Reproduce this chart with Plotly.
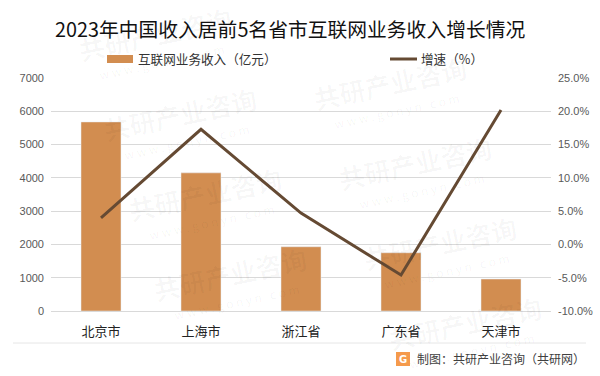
import plotly.graph_objects as go

categories = ["北京市", "上海市", "浙江省", "广东省", "天津市"]
revenue = [5680, 4150, 1930, 1750, 960]
growth = [4.0, 17.3, 4.7, -4.6, 20.2]
left_ticks = [0, 1000, 2000, 3000, 4000, 5000, 6000, 7000]
right_ticks = [-10, -5, 0, 5, 10, 15, 20, 25]
right_labels = ["-10.0%", "-5.0%", "0.0%", "5.0%", "10.0%", "15.0%", "20.0%", "25.0%"]
series_names = ["互联网业务收入（亿元）", "增速（%）"]

FONT = "Noto Sans CJK SC"
W, H = 600, 376
L, R, T, B = 51, 551, 78, 311
BAR_COLOR = "#D28D50"
LINE_COLOR = "#654A33"


def fx(x):
    return (x - L) / (R - L)


def fy(y):
    return (B - y) / (B - T)


def label(x, y, text, size, color, xanchor="center", family=FONT, angle=0):
    return dict(x=fx(x), y=fy(y), xref="paper", yref="paper", text=text, showarrow=False,
                xanchor=xanchor, yanchor="middle", textangle=angle,
                font=dict(family=family, size=size, color=color))


fig = go.Figure()
fig.add_bar(x=categories, y=revenue, name=series_names[0], marker_color=BAR_COLOR, width=0.4)
fig.add_scatter(x=categories, y=growth, name=series_names[1], mode="lines", yaxis="y2",
                line=dict(color=LINE_COLOR, width=3))

anns = []
# faint diagonal watermark lattice, whole marks only
for i in range(-2, 4):
    for j in range(-1, 5):
        cx = 155 + 235 * i + 25 * j
        cy = 33 + 49 * i + 80 * j
        if 85 < cx < W - 85 and 30 < cy < H - 30:
            anns.append(label(cx, cy, "<b>共研产业咨询</b>", 26, "rgba(0,0,0,0.03)", angle=-12))
            anns.append(label(cx + 6, cy + 28, "w w w . g o n y n . c o m", 12, "rgba(0,0,0,0.045)", angle=-12))

anns.append(label(290, 29, "2023年中国收入居前5名省市互联网业务收入增长情况", 19.8, "#111111"))
anns.append(label(136, 59, series_names[0], 12.6, "#333333", xanchor="left"))
anns.append(label(419, 59, series_names[1], 12.6, "#333333", xanchor="left"))
anns.append(label(587, 358, "制图：共研产业咨询（共研网）", 12, "#404040", xanchor="right"))
anns.append(label(403, 359, "<b>G</b>", 10, "#ffffff", family="DejaVu Sans"))

shapes = [
    dict(type="rect", xref="paper", yref="paper", x0=fx(107), x1=fx(133), y0=fy(63), y1=fy(55),
         fillcolor=BAR_COLOR, line_width=0),
    dict(type="line", xref="paper", yref="paper", x0=fx(390), x1=fx(417), y0=fy(59), y1=fy(59),
         line=dict(color=LINE_COLOR, width=3)),
    dict(type="rect", xref="paper", yref="paper", x0=fx(396), x1=fx(410), y0=fy(366), y1=fy(352),
         fillcolor="#F59A4C", line_width=0),
    dict(type="line", xref="paper", yref="paper", x0=fx(13), x1=fx(586), y0=fy(343), y1=fy(343),
         line=dict(color="#E6E6E6", width=1)),
]

fig.update_layout(
    width=W, height=H, autosize=False, paper_bgcolor="white", plot_bgcolor="rgba(0,0,0,0)",
    margin=dict(l=L, r=W - R, t=T, b=H - B, autoexpand=False),
    font=dict(family=FONT, size=12, color="#404040"),
    xaxis=dict(range=[-0.5, 4.5], showgrid=False, ticks="", showline=True, linecolor="#D9D9D9", linewidth=1,
               tickfont=dict(family=FONT, size=13, color="#222222"), ticklabelstandoff=8),
    yaxis=dict(range=[0, 7000], tickvals=left_ticks, gridcolor="#D9D9D9", gridwidth=1, zeroline=False,
               tickfont=dict(family="Liberation Sans", size=11, color="#595959"), ticks="", ticklabelstandoff=6),
    yaxis2=dict(range=[-10, 25], tickvals=right_ticks, ticktext=right_labels, overlaying="y", side="right",
                showgrid=False, zeroline=False, tickfont=dict(family="Liberation Sans", size=11, color="#595959"),
                ticks="", ticklabelstandoff=6),
    annotations=anns, shapes=shapes, showlegend=False,
)
fig.write_html("out.html", config={"displayModeBar": False},
               post_script="document.body.style.margin='0';")
